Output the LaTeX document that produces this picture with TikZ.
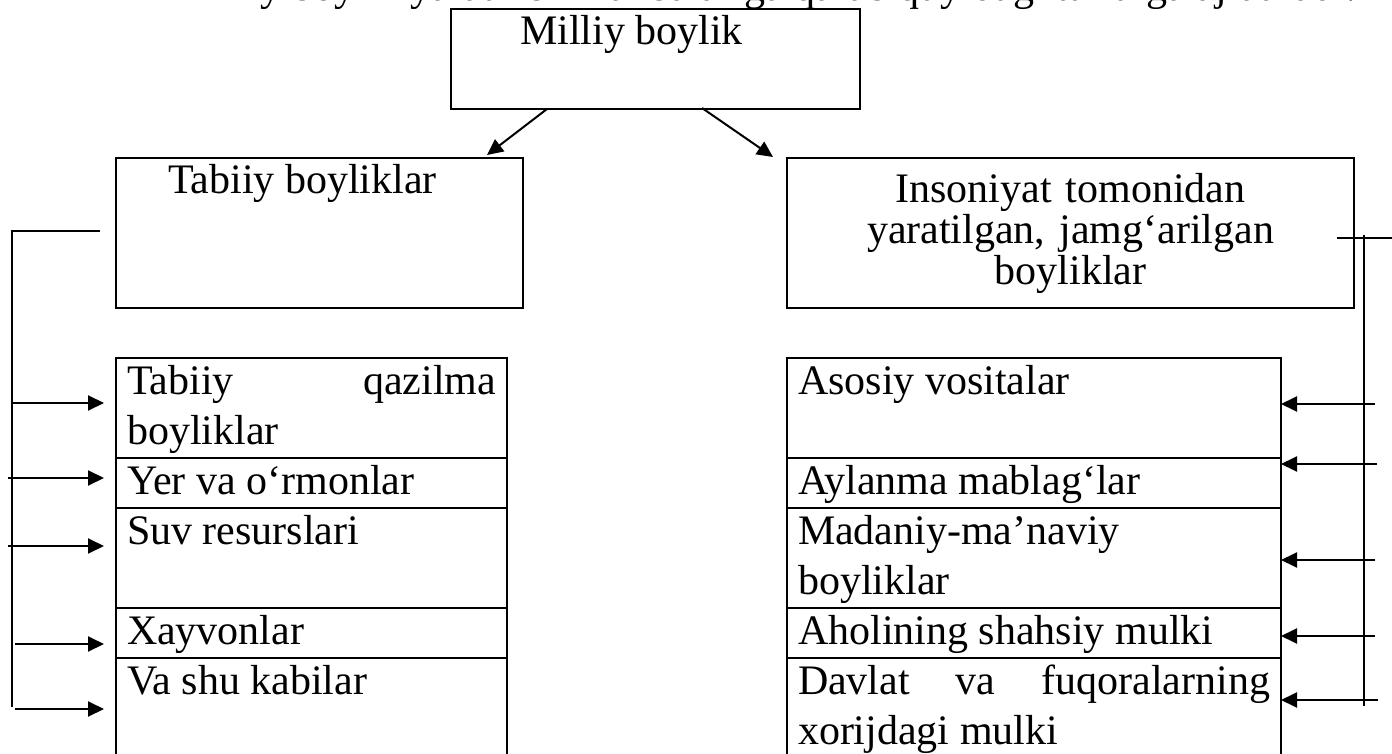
\documentclass[tikz,border=0pt]{standalone}
\usepackage{fontspec}
\setmainfont{Liberation Serif}
\usetikzlibrary{positioning}
\usetikzlibrary{calc}
\usetikzlibrary{arrows.meta}

\newcommand\rowstrut{\rule[-7pt]{0pt}{25pt}}

\begin{document}
\begin{tikzpicture}[x=0.5pt,y=-0.5pt,
    box/.style={draw,line width=1pt,inner sep=0pt,outer sep=0pt,align=justify,
                font=\fontsize{21}{25}\selectfont},
    cell/.style={box,inner xsep=5.5pt},
    arr/.style={-{Triangle[length=8pt,width=7.5pt]},line width=1pt},
    brace/.style={line width=0.7pt}]

  \useasboundingbox (0,0) rectangle (1392,754);

  \node[anchor=base,font=\fontsize{21}{25}\selectfont] (intro) at (767,1)
    {Milliy boylik yaratilish manbalariga qarab quyidagi turlarga ajratiladi:};

  \node[box,anchor=north west,text width=204.5pt] (milliy) at (451,9)
    {\rowstrut\hspace*{34.5pt}Milliy boylik\\\rowstrut};
  \node[box,anchor=north west,text width=203.5pt] (tabiiy) at (116,158)
    {\rowstrut\hspace*{26pt}Tabiiy boyliklar\\\rowstrut\\\rowstrut};
  \node[box,anchor=north west,text width=283.5pt,minimum height=75pt,align=center,
        font=\fontsize{21}{20.5}\selectfont] (inson) at (787,158)
    {Insoniyat tomonidan\\yaratilgan, jamg‘arilgan\\boyliklar};

  \node[cell,anchor=north west,text width=184.5pt] (t1) at (116,358)
    {\rowstrut Tabiiy\hfill qazilma\\\rowstrut boyliklar};
  \node[cell,text width=184.5pt] (t2) [below=0pt of t1] {\rowstrut Yer va o‘rmonlar};
  \node[cell,text width=184.5pt] (t3) [below=0pt of t2] {\rowstrut Suv resurslari\\\rowstrut};
  \node[cell,text width=184.5pt] (t4) [below=0pt of t3] {\rowstrut Xayvonlar};
  \node[cell,text width=184.5pt] (t5) [below=0pt of t4] {\rowstrut Va shu kabilar\\\rowstrut};

  \node[cell,anchor=north west,text width=236pt] (s1) at (787,358)
    {\rowstrut Asosiy vositalar\\\rowstrut};
  \node[cell,text width=236pt] (s2) [below=0pt of s1] {\rowstrut Aylanma mablag‘lar};
  \node[cell,text width=236pt] (s3) [below=0pt of s2]
    {\rowstrut Madaniy-ma’naviy\\\rowstrut boyliklar};
  \node[cell,text width=236pt] (s4) [below=0pt of s3] {\rowstrut Aholining shahsiy mulki};
  \node[cell,text width=236pt] (s5) [below=0pt of s4]
    {\rowstrut Davlat\hfill va\hfill fuqoralarning\\\rowstrut xorijdagi mulki};

  \draw[arr] ($(milliy.south west)+(96,0)$) -- ($(tabiiy.north east)+(-36,-3)$);
  \draw[arr] ($(milliy.south west)+(251,-1)$) -- ($(inson.north west)+(-14,-1)$);

  \coordinate (lt) at (100,231);
  \coordinate (lb) at (12,707);
  \draw[brace] (lt) -| (lb);
  \foreach \r/\y/\s in {1/403/12,2/478/8,3/546/8,4/644/15,5/709/15}
    \draw[arr,shorten >=6pt] (\s,\y) -- (t\r.west |- 0,\y);

  \coordinate (ri) at (1337,238);
  \coordinate (rt) at (1392,238);
  \coordinate (rv) at (1364,235);
  \coordinate (rb) at (1364,706);
  \draw[brace] (ri) -- (rt);
  \draw[brace] (rv) -- (rb);
  \foreach \r/\y/\s in {1/404/1375,2/464/1377,3/560/1375,4/636/1375,5/700/1378}
    \draw[arr] (\s,\y) -- (s\r.east |- 0,\y);
\end{tikzpicture}
\end{document}
